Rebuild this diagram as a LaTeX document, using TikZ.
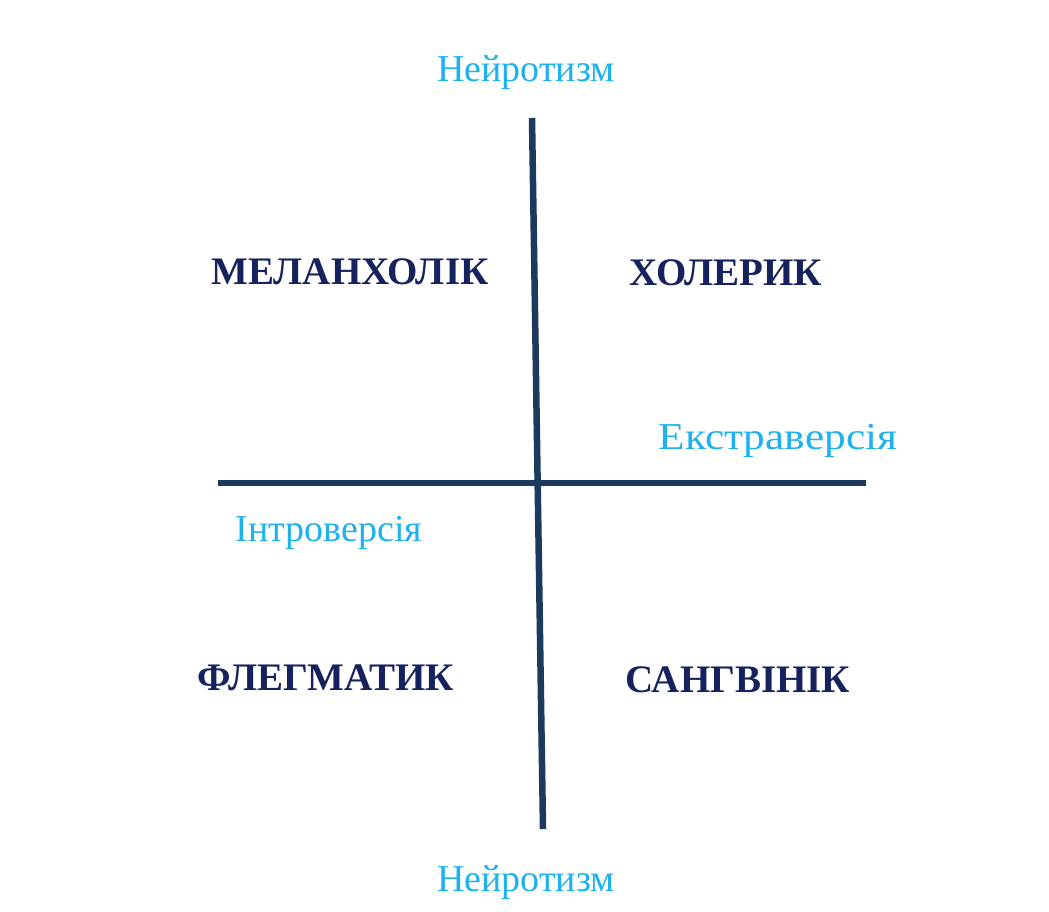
\documentclass[tikz,border=0pt]{standalone}
\usepackage{graphicx}
\usepackage{fontspec}
\setmainfont{Liberation Serif}
\definecolor{axisblue}{HTML}{1C3A5E}
\definecolor{typenavy}{HTML}{16225E}
\definecolor{labelblue}{HTML}{1DB1EE}
\tikzset{
  axisline/.style={draw=axisblue, line width=6.5pt},
  typelabel/.style={text=typenavy, font=\fontsize{39}{44}\selectfont\bfseries, inner sep=0pt},
  axislabel/.style={text=labelblue, font=\fontsize{38}{44}\selectfont, inner sep=0pt},
}
\begin{document}
\begin{tikzpicture}[x=1pt,y=-1pt]
\useasboundingbox[fill=white] (0,0) rectangle (1049,912);
\coordinate (vtop) at (532,118);
\coordinate (vbot) at (543,829);
\coordinate (hleft) at (218,483);
\coordinate (hright) at (866,483);
\draw[axisline] (vtop) -- (vbot);
\draw[axisline] (hleft) -- (hright);
\node[axislabel] (ntop) at (526,73) {Нейротизм};
\node[axislabel] (nbot) at (526,883) {Нейротизм};
\node[axislabel] (extra) at (778,441) {\scalebox{1.14}[1]{Екстраверсія}};
\node[axislabel] (intro) at (329,533) {Інтроверсія};
\node[typelabel] (mel) at (350,272) {МЕЛАНХОЛІК};
\node[typelabel] (chol) at (726,273) {ХОЛЕРИК};
\node[typelabel] (phleg) at (326,678) {ФЛЕГМАТИК};
\node[typelabel] (sang) at (738,680) {САНГВІНІК};
\end{tikzpicture}
\end{document}
